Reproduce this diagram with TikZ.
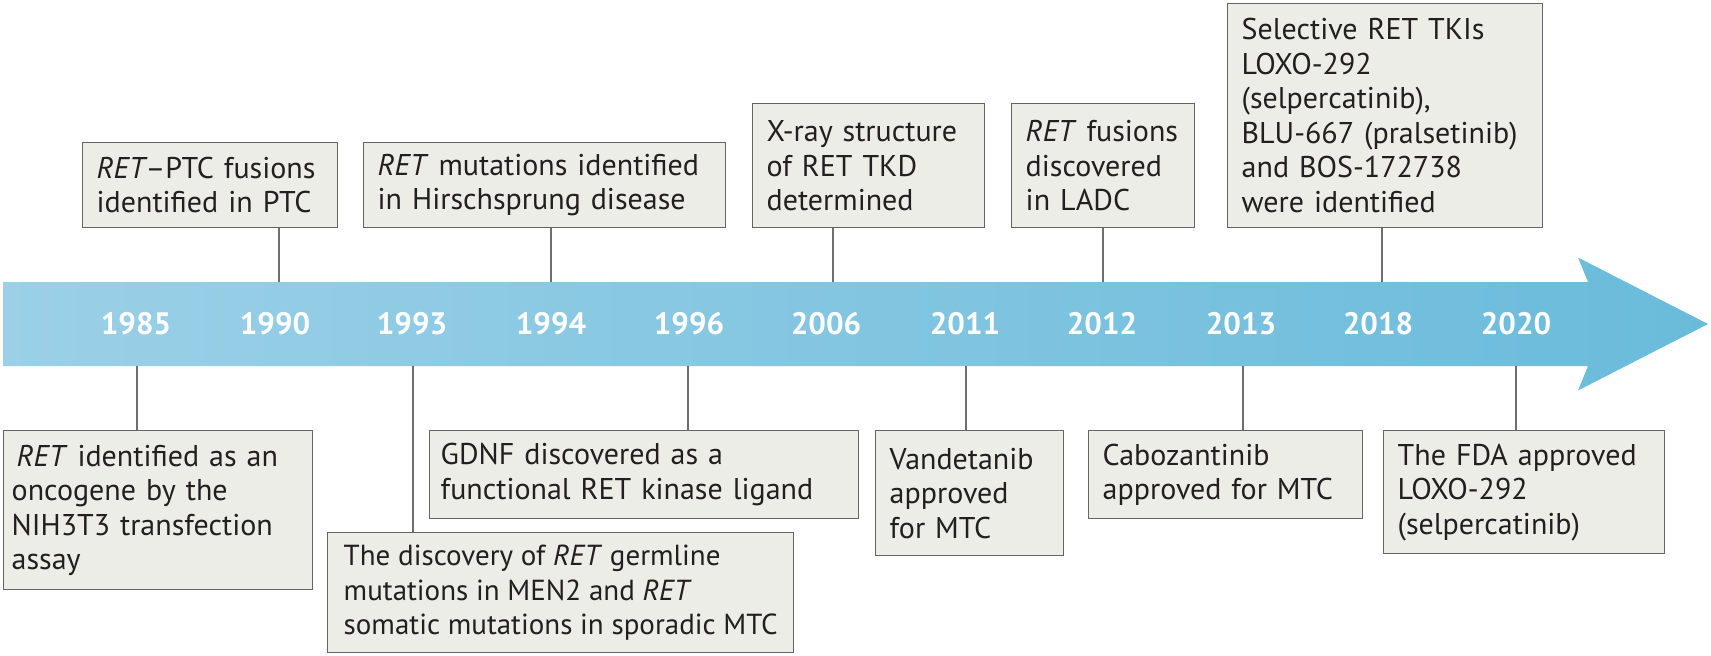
\documentclass[tikz,border=0pt]{standalone}
\usepackage{fontspec}
\setmainfont{PT Sans}
\definecolor{barL}{RGB}{155,208,231}
\definecolor{barR}{RGB}{106,187,219}
\definecolor{boxfill}{RGB}{236,237,231}
\definecolor{boxline}{RGB}{100,100,100}
\definecolor{txt}{RGB}{35,31,32}
\definecolor{conncol}{RGB}{110,110,110}
\begin{document}
\begin{tikzpicture}[x=1pt,y=-1pt,
  evbox/.style={draw=boxline, line width=1.4pt, fill=boxfill, text=txt,
    anchor=north west, align=left, inner xsep=14pt, inner ysep=0pt,
    font=\fontsize{30}{34.5}\selectfont},
  yr/.style={text=white, font=\bfseries\fontsize{31}{31}\selectfont, inner sep=0pt},
  conn/.style={draw=conncol, line width=1.5pt}]
\useasboundingbox (0,0) rectangle (1711,656);
% timeline arrow
\path[left color=barL, right color=barR]
  (3,282) -- (1588,282) -- (1578,257.5) -- (1708,324) -- (1578,390.5) -- (1588,366) -- (3,366) -- cycle;
\coordinate (barT) at (0,282);
\coordinate (barB) at (0,366);
% years
\node[yr] (y1985) at (136,324) {1985};
\node[yr] (y1990) at (275,324) {1990};
\node[yr] (y1993) at (412,324) {1993};
\node[yr] (y1994) at (551,324) {1994};
\node[yr] (y1996) at (689,324) {1996};
\node[yr] (y2006) at (826,324) {2006};
\node[yr] (y2011) at (965,324) {2011};
\node[yr] (y2012) at (1102,324) {2012};
\node[yr] (y2013) at (1241,324) {2013};
\node[yr] (y2018) at (1378,324) {2018};
\node[yr] (y2020) at (1516,324) {2020};
% top boxes
\node[evbox, text width=227pt, minimum height=85pt] (b1990) at (82,142)
  {\textit{RET}\kern-2pt--PTC fusions\\identified in PTC};
\node[evbox, text width=334pt, minimum height=85pt] (b1994) at (363,142)
  {\textit{RET} mutations identified\\in Hirschsprung disease};
\node[evbox, text width=204pt, minimum height=124pt] (b2006) at (752,103)
  {X-ray structure\\of RET TKD\\determined};
\node[evbox, text width=155pt, minimum height=124pt] (b2012) at (1011,103)
  {\textit{RET} fusions\\discovered\\in LADC};
\node[evbox, text width=287pt, minimum height=224pt] (b2018) at (1227,3)
  {Selective RET TKIs\\LOXO-292\\(selpercatinib),\\BLU-667 (pralsetinib)\\and BOS-172738\\were identified};
% bottom boxes
\node[evbox, inner xsep=8pt, text width=293pt, minimum height=159pt] (b1985) at (3,430)
  {\,\textit{RET} identified as an\\oncogene by the\\NIH3T3 transfection\\assay};
\node[evbox, inner xsep=6pt, minimum width=466pt, minimum height=120pt,
  font=\fontsize{29}{34.5}\selectfont] (b1993) at (327,532)
  {The discovery of \textit{RET} germline\\mutations in MEN2 and \textit{RET}\\somatic mutations in sporadic MTC};
\node[evbox, inner xsep=11pt, text width=407pt, minimum height=88pt] (b1996) at (429,430)
  {GDNF discovered as a\\functional RET kinase ligand};
\node[evbox, text width=160pt, minimum height=125pt] (b2011) at (875,430)
  {Vandetanib\\approved\\for MTC};
\node[evbox, text width=246pt, minimum height=88pt] (b2013) at (1088,430)
  {Cabozantinib\\approved for MTC};
\node[evbox, text width=253pt, minimum height=123pt] (b2020) at (1383,430)
  {The FDA approved\\LOXO-292\\(selpercatinib)};
% connector anchor points on the bar
\coordinate (c1990) at (279,0);
\coordinate (c1994) at (551,0);
\coordinate (c2006) at (833,0);
\coordinate (c2012) at (1103,0);
\coordinate (c2018) at (1382,0);
\coordinate (c1985) at (137,0);
\coordinate (c1993) at (413,0);
\coordinate (c1996) at (688,0);
\coordinate (c2011) at (966,0);
\coordinate (c2013) at (1243,0);
\coordinate (c2020) at (1516,0);
% connectors
\foreach \k in {1990,1994,2006,2012,2018}
  \draw[conn] (c\k |- b\k.south) -- (c\k |- barT);
\foreach \k in {1985,1993,1996,2011,2013,2020}
  \draw[conn] (c\k |- barB) -- (c\k |- b\k.north);
\end{tikzpicture}
\end{document}
